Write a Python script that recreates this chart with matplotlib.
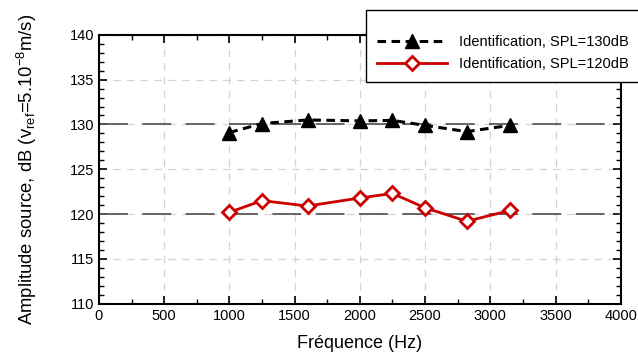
import matplotlib
matplotlib.use("Agg")
import matplotlib.pyplot as plt
from matplotlib.patches import Rectangle
from matplotlib.ticker import MultipleLocator

plt.rcParams["font.family"] = ["Liberation Sans", "DejaVu Sans"]
plt.rcParams["mathtext.fontset"] = "custom"
plt.rcParams["mathtext.rm"] = "Liberation Sans"
plt.rcParams["mathtext.it"] = "Liberation Sans:italic"

freq = [1000, 1250, 1600, 2000, 2250, 2500, 2820, 3150]
amp_130 = [129.1, 130.1, 130.5, 130.4, 130.45, 129.9, 129.2, 129.9]
amp_120 = [120.2, 121.5, 120.9, 121.8, 122.3, 120.7, 119.2, 120.4]
ref_levels = [120, 130]

W, H = 638, 359
fig = plt.figure(figsize=(W / 100, H / 100), dpi=100)
ax = fig.add_axes([0.155, 0.154, 0.818, 0.749])

ax.grid(True, which="major", color="#d4d4d4", linestyle=(0, (6, 5)), linewidth=0.9, zorder=1)
for lvl in ref_levels:
    ax.axhline(lvl, color="#5a5a5a", linestyle=(0, (16, 8)), linewidth=1.3, zorder=2)

ax.plot(freq, amp_130, color="black", linestyle=(0, (2.8, 1.8)), linewidth=2.2,
        marker="^", markersize=10.5, markerfacecolor="black",
        label="Identification, SPL=130dB", zorder=3)
ax.plot(freq, amp_120, color="#cc0000", linestyle="-", linewidth=2.0,
        marker="D", markersize=7, markerfacecolor="white", markeredgecolor="#cc0000",
        markeredgewidth=2, label="Identification, SPL=120dB", zorder=3)

ax.set_xlim(0, 4000)
ax.set_ylim(110, 140)
ax.xaxis.set_major_locator(MultipleLocator(500))
ax.xaxis.set_minor_locator(MultipleLocator(250))
ax.yaxis.set_major_locator(MultipleLocator(5))
ax.yaxis.set_minor_locator(MultipleLocator(1))
ax.tick_params(which="both", direction="in", top=True, right=True, labelsize=10.5)
ax.tick_params(which="major", length=6, width=1.2)
ax.tick_params(which="minor", length=3.5, width=1)
for sp in ax.spines.values():
    sp.set_linewidth(1.5)

ax.set_xlabel("Fréquence (Hz)", fontsize=13, labelpad=9)
ax.set_ylabel(r"Amplitude source, dB (v$_{\mathrm{ref}}$=5.10$^{-8}$m/s)", fontsize=13.3, labelpad=22)

# legend box runs past the right edge of the figure
box = Rectangle((366 / W, 1 - 82 / H), 0.5, 72 / H, transform=fig.transFigure,
                facecolor="white", edgecolor="black", linewidth=1.0, zorder=4)
fig.add_artist(box)
leg = fig.legend(loc="upper left", bbox_to_anchor=(377 / W, 1 - 35 / H),
                 fontsize=10.5, handlelength=4.8, frameon=False,
                 borderpad=0, labelspacing=0.55, borderaxespad=0, handletextpad=0.8)
leg.set_zorder(5)

fig.savefig("out.png", dpi=100)
